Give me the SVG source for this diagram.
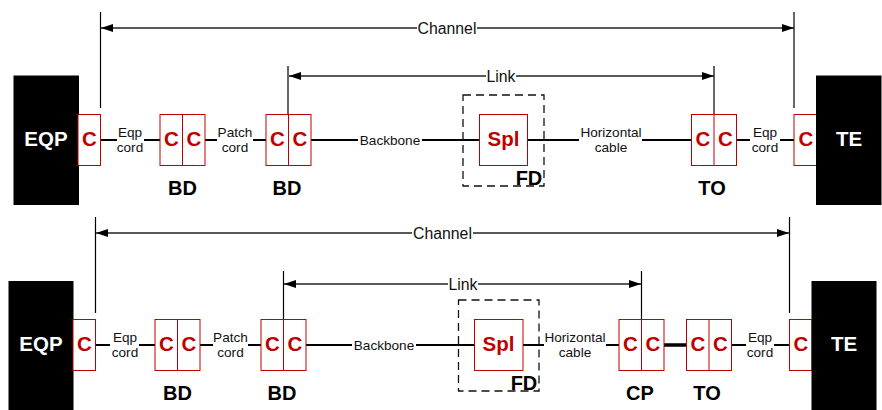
<svg xmlns="http://www.w3.org/2000/svg" width="882" height="410" viewBox="0 0 882 410">
<style>
text{font-family:"Liberation Sans",Arial,sans-serif;text-anchor:middle}
.eq{fill:#000}
.eqt{fill:#fff;font-weight:bold;font-size:20.5px}
.box{fill:#fff;stroke:#c00000;stroke-width:1}
.c{fill:#c00000;font-weight:bold;font-size:20.5px}
.lab{fill:#000;font-weight:bold;font-size:20px}
.s{fill:#111;font-size:13.6px}
.dim{fill:#111;font-size:15.8px}
.w{stroke:#000;stroke-width:2;fill:none}
.t{stroke:#000;stroke-width:3.5;fill:none}
.v{stroke:#000;stroke-width:1.2;fill:none}
.a0{stroke:#222;stroke-width:1.4;fill:none}
.d{fill:none;stroke:#111;stroke-width:1.3;stroke-dasharray:8 5}
</style>
<defs>
<marker id="as" markerUnits="userSpaceOnUse" markerWidth="12" markerHeight="8" refX="0" refY="4" orient="auto"><path d="M0 4L12 0V8Z" fill="#000"/></marker>
<marker id="ae" markerUnits="userSpaceOnUse" markerWidth="12" markerHeight="8" refX="12" refY="4" orient="auto"><path d="M0 0L12 4L0 8Z" fill="#000"/></marker>
</defs>

<g id="connectors">
<path class="d" d="M463 95H544V186H463Z"/>
<path class="d" d="M458.5 300H539V391H458.5Z"/>
<path class="w" d="M100.5 140H117M144 140H160M205 140H217M253 140H266M311 140H358M422 140H479.5M527.5 140H579M642 140H691.5M736.5 140H750M780 140H794"/>
<path class="w" d="M95.5 345H110M139 345H155M200 345H213M248 345H261M306 345H352M416 345H474.5M523 345H544M606 345H619M731.5 345H746M774 345H789.5"/>
<path class="t" d="M664 345H686.5"/>
<path class="v" d="M100.500 12V108M794 12V108M288 66V114.5M714 66V114.5M95.5 217V313M789.5 217V313M283.5 271V319.5M641.5 271V319.5"/>
<path class="a0" d="M101 28H417" marker-start="url(#as)"/>
<path class="a0" d="M477 28H794" marker-end="url(#ae)"/>
<path class="a0" d="M289 76H486" marker-start="url(#as)"/>
<path class="a0" d="M516 76H714" marker-end="url(#ae)"/>
<path class="a0" d="M96 233H412" marker-start="url(#as)"/>
<path class="a0" d="M473 233H789" marker-end="url(#ae)"/>
<path class="a0" d="M284 284H448" marker-start="url(#as)"/>
<path class="a0" d="M478 284H641" marker-end="url(#ae)"/>
</g>

<g id="dim-labels">
<text class="dim" x="447" y="33.500">Channel</text>
<text class="dim" x="501" y="81.500">Link</text>
<text class="dim" x="442.500" y="238.500">Channel</text>
<text class="dim" x="463" y="289.500">Link</text>
</g>

<g id="eqp-top"><rect class="eq" x="13.5" y="75.500" width="65.5" height="129.5"/><text class="eqt" x="46" y="146">EQP</text></g>
<g id="c-top-1"><rect class="box" x="78" y="114.5" width="22.5" height="51"/><text class="c" x="89.5" y="146">C</text></g>
<g id="bd-top-1"><rect class="box" x="160" y="114.5" width="45" height="51"/><path class="box" d="M182.5 114.5V165.5"/><text class="c" x="171.5" y="146">C</text><text class="c" x="194" y="146">C</text><text class="lab" x="182.5" y="194.5">BD</text></g>
<g id="bd-top-2"><rect class="box" x="266" y="114.5" width="45" height="51"/><path class="box" d="M288.5 114.5V165.5"/><text class="c" x="277.5" y="146">C</text><text class="c" x="300" y="146">C</text><text class="lab" x="287" y="194.5">BD</text></g>
<g id="spl-top"><rect class="box" x="479.5" y="114.5" width="48" height="51"/><text class="c" x="503.5" y="146">Spl</text><text class="lab" x="529" y="185">FD</text></g>
<g id="to-top"><rect class="box" x="691.5" y="114.5" width="45" height="51"/><path class="box" d="M714 114.5V165.5"/><text class="c" x="703" y="146">C</text><text class="c" x="725.5" y="146">C</text><text class="lab" x="712" y="194.5">TO</text></g>
<g id="c-top-2"><rect class="box" x="794" y="114.5" width="22.5" height="51"/><text class="c" x="806" y="146">C</text></g>
<g id="te-top"><rect class="eq" x="816" y="75.500" width="65.5" height="129.5"/><text class="eqt" x="849" y="146">TE</text></g>

<g id="cable-labels-top">
<text class="s" x="130" y="136.5">Eqp</text><text class="s" x="130" y="152">cord</text>
<text class="s" x="235" y="136.5">Patch</text><text class="s" x="235" y="152">cord</text>
<text class="s" x="390" y="144.5">Backbone</text>
<text class="s" x="611" y="136.5">Horizontal</text><text class="s" x="611" y="152">cable</text>
<text class="s" x="765" y="136.5">Eqp</text><text class="s" x="765" y="152">cord</text>
</g>

<g id="eqp-bot"><rect class="eq" x="8.5" y="281" width="65" height="129"/><text class="eqt" x="41" y="351">EQP</text></g>
<g id="c-bot-1"><rect class="box" x="73" y="319.5" width="22.5" height="51"/><text class="c" x="84.5" y="351">C</text></g>
<g id="bd-bot-1"><rect class="box" x="155" y="319.5" width="45" height="51"/><path class="box" d="M177.5 319.5V370.5"/><text class="c" x="166.5" y="351">C</text><text class="c" x="189" y="351">C</text><text class="lab" x="177.5" y="399.5">BD</text></g>
<g id="bd-bot-2"><rect class="box" x="261" y="319.5" width="45" height="51"/><path class="box" d="M283.5 319.5V370.5"/><text class="c" x="272.5" y="351">C</text><text class="c" x="295" y="351">C</text><text class="lab" x="282" y="399.5">BD</text></g>
<g id="spl-bot"><rect class="box" x="474.5" y="319.5" width="48.5" height="51"/><text class="c" x="498.5" y="351">Spl</text><text class="lab" x="524" y="390">FD</text></g>
<g id="cp-bot"><rect class="box" x="619" y="319.5" width="45" height="51"/><path class="box" d="M641.5 319.5V370.5"/><text class="c" x="630.5" y="351">C</text><text class="c" x="653" y="351">C</text><text class="lab" x="640" y="399.5">CP</text></g>
<g id="to-bot"><rect class="box" x="686.5" y="319.5" width="45" height="51"/><path class="box" d="M709 319.5V370.5"/><text class="c" x="698" y="351">C</text><text class="c" x="720.5" y="351">C</text><text class="lab" x="707" y="399.5">TO</text></g>
<g id="c-bot-2"><rect class="box" x="789.5" y="319.5" width="22.5" height="51"/><text class="c" x="801" y="351">C</text></g>
<g id="te-bot"><rect class="eq" x="811.5" y="281" width="65" height="129"/><text class="eqt" x="844" y="351">TE</text></g>

<g id="cable-labels-bot">
<text class="s" x="125" y="341.5">Eqp</text><text class="s" x="125" y="357">cord</text>
<text class="s" x="230.5" y="341.5">Patch</text><text class="s" x="230.5" y="357">cord</text>
<text class="s" x="384" y="349.5">Backbone</text>
<text class="s" x="575" y="341.5">Horizontal</text><text class="s" x="575" y="357">cable</text>
<text class="s" x="760" y="341.5">Eqp</text><text class="s" x="760" y="357">cord</text>
</g>
</svg>
